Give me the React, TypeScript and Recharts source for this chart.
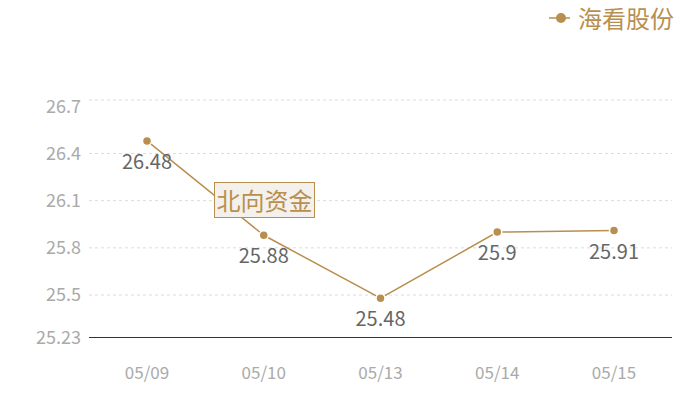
import React from 'react';
import {
  LineChart,
  Line,
  XAxis,
  YAxis,
  CartesianGrid,
  LabelList,
} from 'recharts';

const dates = ['05/09', '05/10', '05/13', '05/14', '05/15'];
const prices = [26.48, 25.88, 25.48, 25.9, 25.91];
const yTicks = [25.23, 25.5, 25.8, 26.1, 26.4, 26.7];
const gridValues = [25.5, 25.8, 26.1, 26.4, 26.7, 26.74];
const yMin = 25.23;
const yMax = 26.74;
const seriesName = '海看股份';
const noteText = '北向资金';

const data = dates.map((d, i) => ({ date: d, price: prices[i] }));

const gold = '#b98f4f';
const font = '"Noto Sans CJK SC", "Noto Sans", sans-serif';

export default function App() {
  return (
    <div style={{ position: 'absolute', left: 0, top: 0, width: 700, height: 400, background: '#fff' }}>
      <LineChart
        width={700}
        height={400}
        data={data}
        margin={{ top: 100, right: 28, bottom: 0, left: 0 }}
        style={{ fontFamily: font }}
      >
        <CartesianGrid
          vertical={false}
          horizontalValues={gridValues}
          stroke="#dcdcdc"
          strokeDasharray="3 3"
        />
        <XAxis
          dataKey="date"
          height={62.5}
          padding={{ left: 58, right: 58 }}
          stroke="#333"
          axisLine={{ stroke: '#333', strokeWidth: 1 }}
          tickLine={false}
          tickSize={0}
          tickMargin={29}
          tick={{ fill: '#aaa', fontSize: 17 }}
        />
        <YAxis
          width={89}
          domain={[yMin, yMax]}
          ticks={yTicks}
          allowDataOverflow
          axisLine={false}
          tickLine={false}
          tick={{ fill: '#aaa', fontSize: 18 }}
        />
        <Line
          type="linear"
          dataKey="price"
          name={seriesName}
          stroke={gold}
          strokeWidth={1.5}
          dot={{ r: 4.5, fill: gold, stroke: '#fff', strokeWidth: 1.5 }}
          isAnimationActive={false}
        >
          <LabelList dataKey="price" position="bottom" offset={14} fill="#666" fontSize={20} />
        </Line>
      </LineChart>
      <div
        style={{
          position: 'absolute',
          right: 26,
          top: 5,
          display: 'flex',
          alignItems: 'center',
          fontFamily: font,
        }}
      >
        <svg width={22} height={20}>
          <line x1={0} y1={10} x2={21} y2={10} stroke={gold} strokeWidth={1.5} />
          <circle cx={12} cy={10} r={5} fill={gold} />
        </svg>
        <span style={{ color: gold, fontSize: 24, marginLeft: 7, lineHeight: '26px' }}>{seriesName}</span>
      </div>
      <div
        style={{
          position: 'absolute',
          left: 214,
          top: 182,
          width: 99,
          height: 34,
          boxSizing: 'content-box',
          border: `1.5px solid ${gold}`,
          background: '#f4f0eb',
          color: gold,
          fontFamily: font,
          fontSize: 24,
          lineHeight: '34px',
          textAlign: 'center',
          whiteSpace: 'nowrap',
        }}
      >
        {noteText}
      </div>
    </div>
  );
}
